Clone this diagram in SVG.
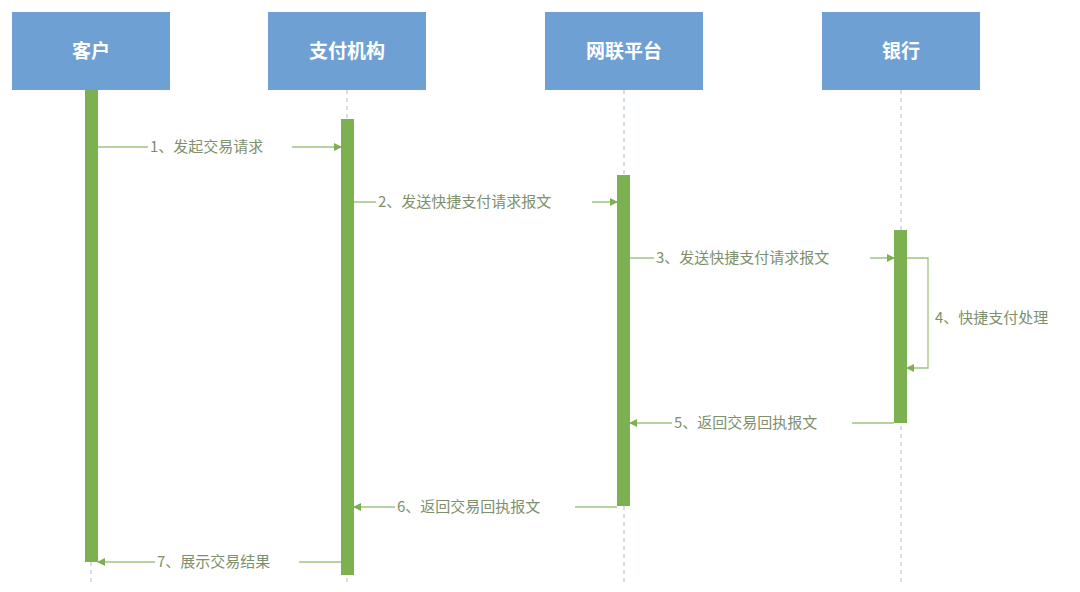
<svg xmlns="http://www.w3.org/2000/svg" width="1080" height="592" viewBox="0 0 1080 592">
<defs>
<style>
.box{fill:#6fa0d4}
.bt{font-family:"Noto Sans CJK SC",sans-serif;font-size:19px;fill:#fff;text-anchor:middle;font-weight:bold}
.life{stroke:#a9bfdc;stroke-width:1;stroke-dasharray:4 4}
.act{fill:#7cb050}
.msg{stroke:#9cc57f;stroke-width:1.3;fill:none}
.lbl{font-family:"Noto Sans CJK SC",sans-serif;font-size:15px;fill:#7d8f6c}
.bg{fill:#fff}
</style>
<marker id="ar" markerWidth="8" markerHeight="8" refX="7" refY="4" orient="auto" markerUnits="userSpaceOnUse"><path d="M0,0 L8,4 L0,8 Z" fill="#7cb050"/></marker>
</defs>
<rect width="1080" height="592" fill="#fff"/>
<g id="n1"><rect class="box" x="12" y="12" width="158" height="78"/><text class="bt" x="91" y="58">客户</text><line class="life" x1="91" y1="90" x2="91" y2="585"/><rect class="act" x="85" y="90" width="13" height="472"/></g>
<g id="n2"><rect class="box" x="268" y="12" width="158" height="78"/><text class="bt" x="347" y="58">支付机构</text><line class="life" x1="347" y1="90" x2="347" y2="585"/><rect class="act" x="341" y="119" width="13" height="456"/></g>
<g id="n3"><rect class="box" x="545" y="12" width="158" height="78"/><text class="bt" x="624" y="58">网联平台</text><line class="life" x1="624" y1="90" x2="624" y2="585"/><rect class="act" x="617" y="175" width="13" height="331"/></g>
<g id="n4"><rect class="box" x="822" y="12" width="158" height="78"/><text class="bt" x="901" y="58">银行</text><line class="life" x1="901" y1="90" x2="901" y2="585"/><rect class="act" x="894" y="230" width="13" height="193"/></g>
<g id="connectors">
<line class="msg" x1="98" y1="147" x2="341" y2="147" marker-end="url(#ar)"/>
<rect class="bg" x="148" y="136" width="144" height="22"/><text class="lbl" x="150" y="152">1、发起交易请求</text>
<line class="msg" x1="354" y1="202" x2="617" y2="202" marker-end="url(#ar)"/>
<rect class="bg" x="376" y="191" width="216" height="22"/><text class="lbl" x="378" y="207">2、发送快捷支付请求报文</text>
<line class="msg" x1="630" y1="258" x2="894" y2="258" marker-end="url(#ar)"/>
<rect class="bg" x="654" y="247" width="216" height="22"/><text class="lbl" x="656" y="263">3、发送快捷支付请求报文</text>
<path class="msg" d="M907,258 H928 V368 H907" marker-end="url(#ar)"/>
<text class="lbl" x="935" y="323">4、快捷支付处理</text>
<line class="msg" x1="894" y1="423" x2="630" y2="423" marker-end="url(#ar)"/>
<rect class="bg" x="672" y="412" width="180" height="22"/><text class="lbl" x="674" y="428">5、返回交易回执报文</text>
<line class="msg" x1="617" y1="507" x2="354" y2="507" marker-end="url(#ar)"/>
<rect class="bg" x="395" y="496" width="180" height="22"/><text class="lbl" x="397" y="512">6、返回交易回执报文</text>
<line class="msg" x1="341" y1="562" x2="98" y2="562" marker-end="url(#ar)"/>
<rect class="bg" x="155" y="551" width="144" height="22"/><text class="lbl" x="157" y="567">7、展示交易结果</text>
</g>
</svg>
